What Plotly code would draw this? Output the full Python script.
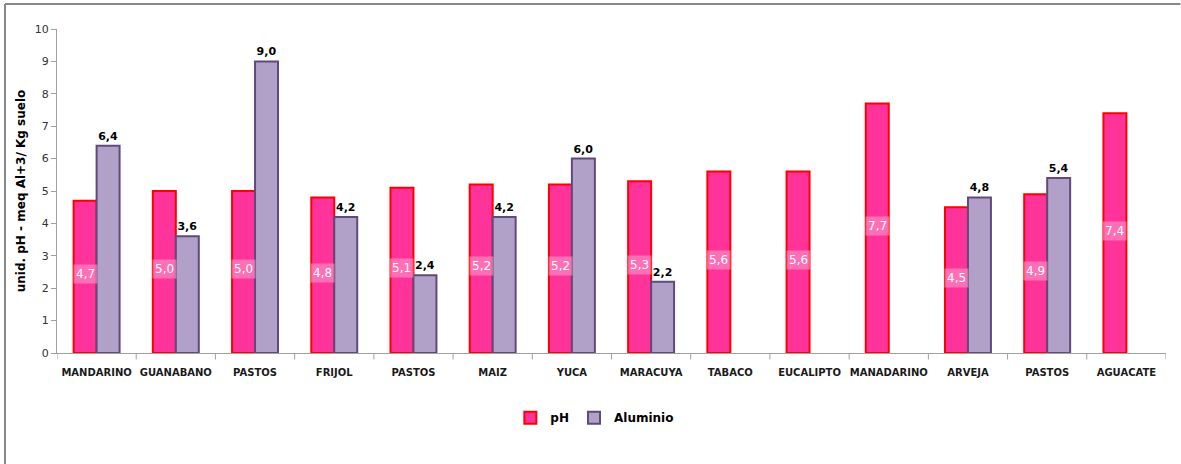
import plotly.graph_objects as go

categories = ["MANDARINO", "GUANABANO", "PASTOS", "FRIJOL", "PASTOS", "MAIZ", "YUCA",
              "MARACUYA", "TABACO", "EUCALIPTO", "MANADARINO", "ARVEJA", "PASTOS", "AGUACATE"]
ph_values = [4.7, 5.0, 5.0, 4.8, 5.1, 5.2, 5.2, 5.3, 5.6, 5.6, 7.7, 4.5, 4.9, 7.4]
al_values = [6.4, 3.6, 9.0, 4.2, 2.4, 4.2, 6.0, 2.2, None, None, None, 4.8, 5.4, None]
y_title = "unid. pH - meq Al+3/ Kg suelo"

FONT = "DejaVu Sans"
x_idx = list(range(len(categories)))

def fmt(v):
    return ("%.1f" % v).replace(".", ",")

fig = go.Figure()
fig.add_trace(go.Bar(
    x=x_idx, y=ph_values, name="pH",
    marker=dict(color="#FF3399", line=dict(color="#FF0000", width=2)),
))
fig.add_trace(go.Bar(
    x=x_idx, y=al_values, name="Aluminio",
    marker=dict(color="#B1A0C7", line=dict(color="#604A7B", width=2)),
    text=[fmt(v) if v is not None else "" for v in al_values],
    textposition="outside", cliponaxis=False,
    textfont=dict(family=FONT, size=11, color="#000000", weight="bold"),
))

bargap = 0.42
bar_w = (1 - bargap) / 2
for i, v in enumerate(ph_values):
    fig.add_annotation(
        x=i - bar_w / 2, y=v / 2 + 0.08, text=fmt(v), showarrow=False,
        font=dict(family=FONT, size=12, color="white"),
        bgcolor="rgba(255,160,205,0.55)", borderpad=2,
    )

# outer frame (top and left lines)
fig.add_shape(type="line", xref="paper", yref="paper", x0=-0.0469, x1=1.013,
              y0=1.0772, y1=1.0772, line=dict(color="#888888", width=2))
fig.add_shape(type="line", xref="paper", yref="paper", x0=-0.0469, x1=-0.0469,
              y0=1.0772, y1=-0.36, line=dict(color="#888888", width=2))

fig.update_layout(
    width=1181, height=464,
    margin=dict(l=57, r=15, t=29, b=111),
    plot_bgcolor="white", paper_bgcolor="white",
    barmode="group", bargap=bargap, bargroupgap=0,
    font=dict(family=FONT, color="#222222"),
    showlegend=True,
    legend=dict(orientation="h", x=0.485, xanchor="center", y=-0.2, yanchor="middle",
                font=dict(family=FONT, size=12, color="#000000", weight="bold"),
                itemwidth=30, traceorder="normal"),
    xaxis=dict(
        tickmode="array", tickvals=x_idx, ticktext=categories,
        range=[-0.5, len(categories) - 0.5], automargin=False,
        showgrid=False, showline=True, linecolor="#A0A0A0", linewidth=1,
        ticks="", ticklabelstandoff=10,
        tickfont=dict(family=FONT, size=10, color="#1a1a1a", weight="bold"),
    ),
    yaxis=dict(
        range=[0, 10], dtick=1, showgrid=False, showline=True, automargin=False,
        linecolor="#A0A0A0", linewidth=1, ticks="outside", ticklen=5,
        tickcolor="#A0A0A0", zeroline=False,
        tickfont=dict(family=FONT, size=11, color="#333333"),
        title=dict(text=y_title, font=dict(family=FONT, size=12, color="#000000", weight="bold"),
                   standoff=6),
    ),
)

# category separator ticks on x axis
for i in range(len(categories) + 1):
    fig.add_shape(type="line", xref="x", yref="paper", x0=i - 0.5, x1=i - 0.5,
                  y0=0, y1=-0.02, line=dict(color="#A0A0A0", width=1))

fig.write_html("out.html", config={"displayModeBar": False},
               post_script="document.body.style.margin='0px';document.body.style.overflow='hidden';")
